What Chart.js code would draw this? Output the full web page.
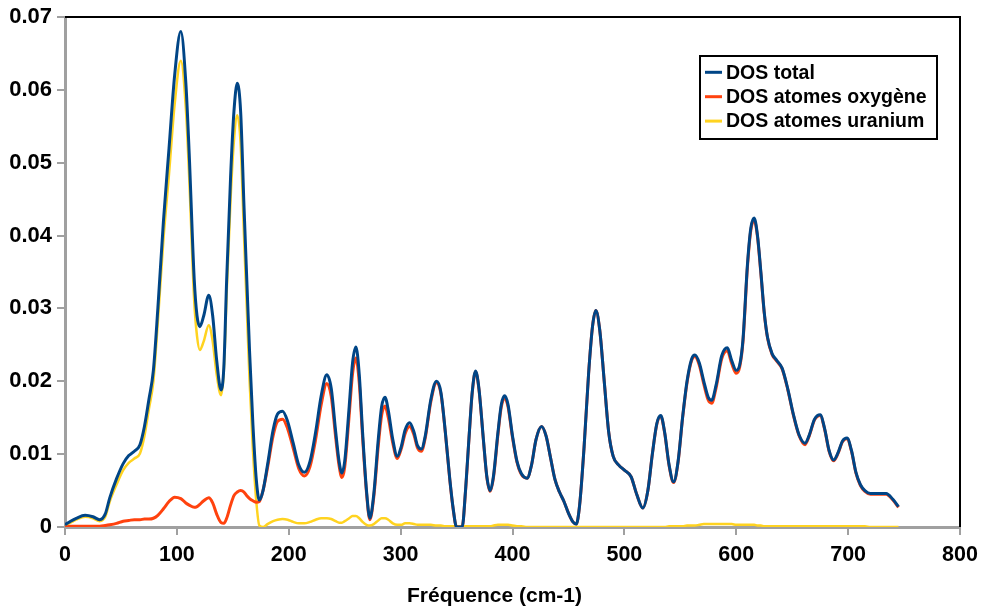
<!DOCTYPE html>
<html>
<head>
<meta charset="utf-8">
<script src="https://cdn.jsdelivr.net/npm/chart.js@4/dist/chart.umd.min.js"></script>
<style>
  html, body { margin: 0; padding: 0; background: #ffffff; }
  #wrap { width: 983px; height: 613px; }
</style>
</head>
<body>
<div id="wrap"><canvas id="c" width="983" height="613"></canvas></div>
<script>
// Frequencies (cm-1)
const freq = [0,5,10,18,25,31,36,40,46,52,
  57,62,67,71,75,79,83,88,93,98,
  103.5,108,111,115.5,118,120.5,124,128.5,132,135.5,
  139.5,142,144.5,148,151,154,157,160,162.5,165,
  168,171,173.7,177,181,186,190,194.5,199,204,
  209,214,219,224,229,234,238,242,245,247.5,
  250,254,257,260,263,266,269.5,272.5,276,280,
  283,286,289,293,297,300.5,304,308,312,315,
  318.5,322,327,332,336,340,344,347,350,355,
  358,361,364,367,370,374,377,380,383,387,
  390,393,396,400,404,408,413,417,421,426,
  430,434,438,442,446,450,454,457,460,464,
  468,471.5,474.5,478,482,486,490,495,500,506,
  511,516.5,521,525,529,532.5,536,540,544,548,
  552,556,560,563,567,571,575,578,582,587,
  592,596,600,603,606,610,613,616,619,622,
  625,628,632,636,641,646,651,656,661.5,665,
  670,675,679,683,687,691,695,699,703,707,
  711,715,720,727,734,740,745];

// Total density of states
const dosTotal = [0.0003,0.0008,0.0012,0.0016,0.0014,0.0010,0.0018,0.0040,0.0066,0.0087,
  0.0098,0.0104,0.0113,0.0138,0.0175,0.0215,0.0300,0.0420,0.0520,0.0620,
  0.0680,0.0610,0.0513,0.0340,0.0290,0.0275,0.0290,0.0318,0.0290,0.0230,
  0.0188,0.0220,0.0339,0.0480,0.0570,0.0609,0.0570,0.0440,0.0339,0.0240,
  0.0140,0.0065,0.0037,0.0050,0.0085,0.0133,0.0155,0.0159,0.0145,0.0115,
  0.0085,0.0075,0.0090,0.0130,0.0180,0.0209,0.0190,0.0130,0.0090,0.0074,
  0.0090,0.0165,0.0225,0.0247,0.0210,0.0130,0.0050,0.0012,0.0045,0.0120,
  0.0165,0.0178,0.0160,0.0120,0.0097,0.0110,0.0133,0.0143,0.0130,0.0112,
  0.0107,0.0125,0.0175,0.0200,0.0185,0.0130,0.0065,0.0025,0.0000,0.0000,
  0.0050,0.0120,0.0185,0.0214,0.0190,0.0120,0.0070,0.0050,0.0070,0.0130,
  0.0168,0.0180,0.0168,0.0125,0.0090,0.0073,0.0067,0.0085,0.0120,0.0138,
  0.0125,0.0095,0.0065,0.0048,0.0035,0.0019,0.0007,0.0004,0.0030,0.0110,
  0.0210,0.0275,0.0297,0.0270,0.0200,0.0130,0.0097,0.0085,0.0078,0.0069,
  0.0045,0.0026,0.0050,0.0100,0.0142,0.0153,0.0130,0.0085,0.0062,0.0090,
  0.0150,0.0200,0.0230,0.0236,0.0225,0.0200,0.0178,0.0174,0.0195,0.0235,
  0.0246,0.0228,0.0215,0.0222,0.0257,0.0360,0.0410,0.0424,0.0400,0.0350,
  0.0295,0.0260,0.0238,0.0229,0.0218,0.0190,0.0155,0.0127,0.0115,0.0125,
  0.0148,0.0154,0.0135,0.0105,0.0092,0.0102,0.0118,0.0122,0.0105,0.0075,
  0.0058,0.0050,0.0046,0.0046,0.0046,0.0038,0.0028];

// Oxygen-projected density of states
const dosOxygen = [0.0000,0.0001,0.0001,0.0001,0.0001,0.0001,0.0002,0.0003,0.0005,0.0008,
  0.0009,0.0010,0.0010,0.0011,0.0011,0.0012,0.0016,0.0025,0.0035,0.0041,
  0.0039,0.0033,0.0030,0.0027,0.0028,0.0031,0.0036,0.0040,0.0033,0.0018,
  0.0006,0.0005,0.0012,0.0030,0.0043,0.0048,0.0050,0.0048,0.0043,0.0039,
  0.0036,0.0034,0.0035,0.0050,0.0081,0.0125,0.0145,0.0148,0.0135,0.0108,
  0.0080,0.0070,0.0083,0.0120,0.0168,0.0197,0.0179,0.0122,0.0084,0.0068,
  0.0082,0.0153,0.0210,0.0232,0.0198,0.0123,0.0047,0.0010,0.0041,0.0111,
  0.0153,0.0166,0.0150,0.0115,0.0094,0.0107,0.0128,0.0138,0.0126,0.0109,
  0.0104,0.0122,0.0172,0.0198,0.0183,0.0129,0.0064,0.0024,0.0000,0.0000,
  0.0049,0.0119,0.0184,0.0213,0.0189,0.0119,0.0069,0.0049,0.0068,0.0127,
  0.0165,0.0177,0.0165,0.0123,0.0089,0.0072,0.0067,0.0085,0.0120,0.0138,
  0.0125,0.0095,0.0065,0.0048,0.0035,0.0019,0.0007,0.0004,0.0030,0.0110,
  0.0210,0.0275,0.0297,0.0270,0.0200,0.0130,0.0097,0.0085,0.0078,0.0069,
  0.0045,0.0026,0.0050,0.0100,0.0141,0.0152,0.0129,0.0084,0.0061,0.0089,
  0.0149,0.0198,0.0228,0.0234,0.0222,0.0196,0.0174,0.0170,0.0191,0.0231,
  0.0242,0.0224,0.0211,0.0219,0.0254,0.0357,0.0407,0.0421,0.0398,0.0348,
  0.0294,0.0259,0.0237,0.0228,0.0217,0.0189,0.0154,0.0126,0.0113,0.0124,
  0.0147,0.0153,0.0134,0.0104,0.0091,0.0101,0.0117,0.0121,0.0104,0.0074,
  0.0057,0.0049,0.0045,0.0045,0.0045,0.0037,0.0027];

// Uranium-projected density of states
const dosUranium = [0.0002,0.0006,0.0010,0.0014,0.0012,0.0008,0.0014,0.0035,0.0058,0.0078,
  0.0088,0.0094,0.0101,0.0125,0.0162,0.0200,0.0282,0.0395,0.0485,0.0580,
  0.0640,0.0575,0.0480,0.0310,0.0262,0.0243,0.0255,0.0277,0.0255,0.0210,
  0.0181,0.0215,0.0320,0.0450,0.0530,0.0565,0.0525,0.0400,0.0300,0.0200,
  0.0105,0.0035,0.0002,0.0000,0.0004,0.0008,0.0010,0.0011,0.0010,0.0007,
  0.0005,0.0005,0.0007,0.0010,0.0012,0.0012,0.0011,0.0008,0.0006,0.0006,
  0.0008,0.0012,0.0015,0.0015,0.0012,0.0007,0.0003,0.0002,0.0004,0.0009,
  0.0012,0.0012,0.0010,0.0005,0.0003,0.0003,0.0005,0.0005,0.0004,0.0003,
  0.0003,0.0003,0.0003,0.0002,0.0002,0.0001,0.0001,0.0001,0.0001,0.0001,
  0.0001,0.0001,0.0001,0.0001,0.0001,0.0001,0.0001,0.0001,0.0002,0.0003,
  0.0003,0.0003,0.0003,0.0002,0.0001,0.0001,0,0,0,0,
  0,0,0,0,0,0,0,0,0,0,
  0,0,0,0,0,0,0,0,0,0,
  0,0,0,0,0,0,0,0.0001,0.0001,0.0001,
  0.0001,0.0002,0.0002,0.0002,0.0003,0.0004,0.0004,0.0004,0.0004,0.0004,
  0.0004,0.0004,0.0003,0.0003,0.0003,0.0003,0.0003,0.0003,0.0002,0.0002,
  0.0001,0.0001,0.0001,0.0001,0.0001,0.0001,0.0001,0.0001,0.0001,0.0001,
  0.0001,0.0001,0.0001,0.0001,0.0001,0.0001,0.0001,0.0001,0.0001,0.0001,
  0.0001,0.0001,0,0,0,0,0];

const seriesLabels = ['DOS total', 'DOS atomes oxygène', 'DOS atomes uranium'];
const seriesColors = ['#004586', '#ff420e', '#ffd320'];
const xTitle = 'Fréquence (cm-1)';

const FONT = '"Liberation Sans", Arial, sans-serif';
const AXIS_GREY = '#a0a0a0';

function points(values) {
  return freq.map((f, i) => ({ x: f, y: values[i] }));
}

// Black top/right frame of the plot area
const framePlugin = {
  id: 'frame',
  afterDraw(chart) {
    const { ctx, chartArea: a } = chart;
    ctx.save();
    ctx.strokeStyle = '#000';
    ctx.lineWidth = 2;
    ctx.beginPath();
    ctx.moveTo(a.left, a.top);
    ctx.lineTo(a.right, a.top);
    ctx.lineTo(a.right, a.bottom);
    ctx.stroke();
    ctx.restore();
  }
};

// X-axis title, centred on the whole figure width
const axisTitlePlugin = {
  id: 'axisTitle',
  afterDraw(chart) {
    const { ctx } = chart;
    ctx.save();
    ctx.font = 'bold 21px ' + FONT;
    ctx.fillStyle = '#000';
    ctx.textAlign = 'center';
    ctx.textBaseline = 'middle';
    ctx.fillText(xTitle, chart.width / 2 + 3, chart.height - 17);
    ctx.restore();
  }
};

// Boxed legend inside the plot area, top right
const boxLegendPlugin = {
  id: 'boxLegend',
  afterDraw(chart) {
    const { ctx, chartArea: a } = chart;
    const x = a.right - 260, y = a.top + 39, w = 237, h = 83;
    ctx.save();
    ctx.fillStyle = '#fff';
    ctx.fillRect(x, y, w, h);
    ctx.strokeStyle = '#000';
    ctx.lineWidth = 2;
    ctx.strokeRect(x, y, w, h);
    ctx.font = 'bold 19.5px ' + FONT;
    ctx.textBaseline = 'middle';
    ctx.textAlign = 'left';
    chart.data.datasets.forEach((ds, i) => {
      const cy = y + 16.3 + i * 24.4;
      ctx.strokeStyle = ds.borderColor;
      ctx.lineWidth = 3;
      ctx.beginPath();
      ctx.moveTo(x + 5, cy);
      ctx.lineTo(x + 22, cy);
      ctx.stroke();
      ctx.fillStyle = '#000';
      ctx.fillText(ds.label, x + 26, cy + 1);
    });
    ctx.restore();
  }
};

const widths = [3, 3, 2.5];
const allSeries = [dosTotal, dosOxygen, dosUranium];

new Chart(document.getElementById('c'), {
  type: 'line',
  data: {
    datasets: allSeries.map((vals, i) => ({
      label: seriesLabels[i],
      data: points(vals),
      borderColor: seriesColors[i],
      backgroundColor: seriesColors[i],
      borderWidth: widths[i],
      pointRadius: 0,
      fill: false,
      cubicInterpolationMode: 'monotone'
    }))
  },
  options: {
    responsive: false,
    animation: false,
    devicePixelRatio: 1,
    layout: { padding: { top: 17, right: 23, left: 0, bottom: 0 } },
    plugins: { legend: { display: false }, tooltip: { enabled: false } },
    scales: {
      x: {
        type: 'linear',
        min: 0, max: 800,
        ticks: { stepSize: 100, color: '#000', font: { family: FONT, size: 21.5, weight: 'bold' }, padding: 7, maxRotation: 0 },
        grid: { drawOnChartArea: false, drawTicks: true, tickLength: 8, color: AXIS_GREY, lineWidth: 2 },
        border: { display: true, color: AXIS_GREY, width: 3 },
        afterFit(s) { s.height = 86; s.paddingLeft = 0; s.paddingRight = 0; }
      },
      y: {
        min: 0, max: 0.07,
        ticks: {
          stepSize: 0.01, color: '#000', font: { family: FONT, size: 22, weight: 'bold' }, padding: 5,
          callback: v => (v === 0 ? '0' : Number(v).toFixed(2))
        },
        grid: { drawOnChartArea: false, drawTicks: true, tickLength: 8, color: AXIS_GREY, lineWidth: 2 },
        border: { display: true, color: AXIS_GREY, width: 3 },
        afterFit(s) { s.width = 65; s.paddingTop = 0; s.paddingBottom = 0; }
      }
    }
  },
  plugins: [framePlugin, axisTitlePlugin, boxLegendPlugin]
});
</script>
</body>
</html>
